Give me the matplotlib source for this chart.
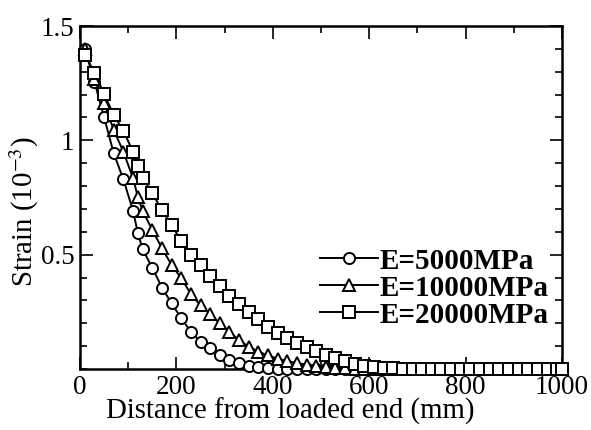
import numpy as np
import matplotlib
matplotlib.use("Agg")
import matplotlib.pyplot as plt
from matplotlib.ticker import MultipleLocator, FixedLocator

plt.rcParams['font.family'] = ['Liberation Serif', 'DejaVu Serif']
plt.rcParams['mathtext.fontset'] = 'stix'

# distance from loaded end (mm)
dist = [10, 30, 50, 70, 90, 110, 120, 130, 150, 170, 190, 210, 230, 250, 270,
        290, 310, 330, 350, 370, 390, 410, 430, 450, 470, 490, 510, 530, 550,
        570, 590, 610, 630, 650, 670, 690, 710, 730, 750, 770, 790, 810, 830,
        850, 870, 890, 910, 930, 950, 970, 990, 1000]

# strain (10^-3)
e5000 = [1.40, 1.256, 1.10, 0.943, 0.829, 0.692, 0.594, 0.523, 0.443, 0.356,
         0.287, 0.222, 0.163, 0.119, 0.090, 0.061, 0.040, 0.025, 0.015, 0.008,
         0.004, 0.002, 0.001, 0, 0, 0, 0, 0, 0, 0, 0, 0, 0, 0, 0, 0, 0, 0, 0,
         0, 0, 0, 0, 0, 0, 0, 0, 0, 0, 0, 0, 0]
e10000 = [1.40, 1.27, 1.162, 1.045, 0.950, 0.834, 0.753, 0.691, 0.608, 0.528,
          0.455, 0.397, 0.328, 0.278, 0.240, 0.200, 0.163, 0.126, 0.098, 0.076,
          0.059, 0.045, 0.034, 0.026, 0.019, 0.013, 0.008, 0.005, 0.003,
          0.001, 0, 0, 0, 0, 0, 0, 0, 0, 0, 0, 0, 0, 0, 0, 0, 0, 0, 0, 0, 0,
          0, 0]
e20000 = [1.375, 1.296, 1.202, 1.111, 1.041, 0.950, 0.888, 0.836, 0.768,
          0.695, 0.630, 0.560, 0.500, 0.453, 0.408, 0.362, 0.320, 0.284,
          0.249, 0.218, 0.185, 0.156, 0.134, 0.114, 0.095, 0.078, 0.061,
          0.047, 0.035, 0.023, 0.015, 0.009, 0.005, 0.003, 0.001, 0, 0, 0, 0,
          0, 0, 0, 0, 0, 0, 0, 0, 0, 0, 0, 0, 0]

series = [(e5000, 'o', 'E=5000MPa'),
          (e10000, '^', 'E=10000MPa'),
          (e20000, 's', 'E=20000MPa')]

fig = plt.figure(figsize=(5.91, 4.30), dpi=100)
ax = fig.add_axes([0.1354, 0.1419, 0.8155, 0.7976])

for vals, mk, lab in series:
    ax.plot(dist, vals, color='black', linewidth=1.4, marker=mk,
            markersize=8, markerfacecolor='white', markeredgecolor='black',
            markeredgewidth=1.4, label=lab, clip_on=False, zorder=3)

ax.set_xlim(0, 1000)
ax.set_ylim(0, 1.5)
ax.xaxis.set_major_locator(MultipleLocator(200))
ax.xaxis.set_minor_locator(MultipleLocator(100))
ax.yaxis.set_major_locator(FixedLocator([0.5, 1.0, 1.5]))
ax.yaxis.set_minor_locator(MultipleLocator(0.1))
ax.set_yticklabels(['0.5', '1', '1.5'])

ax.tick_params(which='both', direction='in', top=True, right=True,
               labelsize=19.5, width=1.2, pad=4)
ax.tick_params(which='major', length=9)
ax.tick_params(which='minor', length=5)
for s in ax.spines.values():
    s.set_linewidth(1.8)

ax.set_xlabel('Distance from loaded end (mm)', fontsize=20.8, labelpad=-1,
              x=0.436)
ax.set_ylabel('Strain (10$^{-3}$)', fontsize=20.8, labelpad=0, y=0.46)

leg = ax.legend(loc='center left', bbox_to_anchor=(0.467, 0.236), frameon=False,
                prop={'weight': 'bold', 'size': 21}, handlelength=2.0,
                handletextpad=0.05, labelspacing=0.0, borderpad=0.0)

fig.savefig('out.png', dpi=100)
